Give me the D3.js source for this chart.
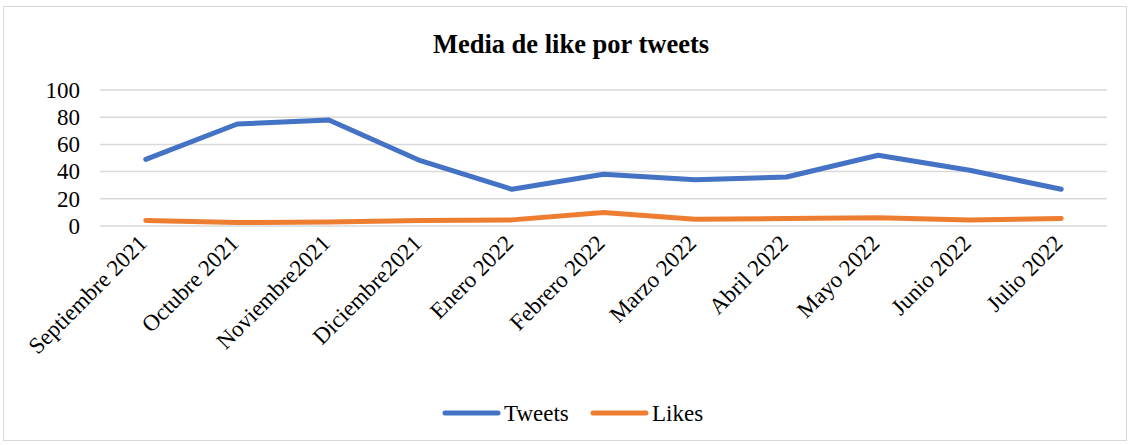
<!DOCTYPE html>
<html><head><meta charset="utf-8">
<script src="https://cdn.jsdelivr.net/npm/d3@7/dist/d3.min.js"></script>
<style>
html,body{margin:0;padding:0;background:#fff;}
svg{display:block;font-family:"Liberation Serif","Times New Roman",serif;}
</style></head>
<body>
<script>
const categories = ["Septiembre 2021","Octubre 2021","Noviembre2021","Diciembre2021","Enero 2022","Febrero 2022","Marzo 2022","Abril 2022","Mayo 2022","Junio 2022","Julio 2022"];
const tweets = [49,75,78,48,27,38,34,36,52,41,27];
const likes = [4,2.5,3,4,4.5,10,5,5.5,6,4.5,5.5];
const yTicks = [0,20,40,60,80,100];
const seriesNames = ["Tweets","Likes"];
const colors = ["#4472C4","#ED7D31"];

const W = 1131, H = 445;
const svg = d3.select("body").append("svg").attr("width", W).attr("height", H);

svg.append("rect").attr("x",3.5).attr("y",6.5).attr("width",1123).attr("height",434)
  .attr("fill","#fff").attr("stroke","#d9d9d9").attr("stroke-width",1);

svg.append("text").attr("x",571).attr("y",53).attr("text-anchor","middle")
  .attr("font-size",26.5).attr("font-weight","bold").attr("fill","#000")
  .text("Media de like por tweets");

const x = d3.scaleBand().domain(categories).range([100,1107]);
const y = d3.scaleLinear().domain([0,100]).range([226,90]);

const grid = svg.append("g");
grid.selectAll("line").data(yTicks).join("line")
  .attr("x1",100).attr("x2",1107)
  .attr("y1",d=>y(d)).attr("y2",d=>y(d))
  .attr("stroke","#d9d9d9").attr("stroke-width",1.5);

const yAxis = svg.append("g").attr("transform","translate(100,0)")
  .call(d3.axisLeft(y).tickValues(yTicks).tickSize(0).tickPadding(20));
yAxis.select(".domain").remove();
yAxis.selectAll("text").attr("font-size",23).attr("font-family","Liberation Serif").attr("fill","#000");

const xAxis = svg.append("g").attr("transform","translate(0,226)")
  .call(d3.axisBottom(x).tickSize(0));
xAxis.select(".domain").remove();
xAxis.selectAll("text")
  .attr("font-size",23).attr("font-family","Liberation Serif").attr("fill","#000")
  .attr("text-anchor","end")
  .attr("transform","translate(-3,13) rotate(-45)")
  .attr("x",0).attr("y",0).attr("dy","0.35em");

const line = d3.line().x((d,i)=>x(categories[i])+x.bandwidth()/2).y(d=>y(d));
[tweets,likes].forEach((s,k)=>{
  svg.append("path").datum(s).attr("d",line)
    .attr("fill","none").attr("stroke",colors[k]).attr("stroke-width",5)
    .attr("stroke-linejoin","round").attr("stroke-linecap","round");
});

const legendX = [445,593];
seriesNames.forEach((n,k)=>{
  const g = svg.append("g").attr("transform",`translate(${legendX[k]},413)`);
  g.append("line").attr("x1",0).attr("x2",53).attr("y1",0).attr("y2",0)
    .attr("stroke",colors[k]).attr("stroke-width",5).attr("stroke-linecap","round");
  g.append("text").attr("x",59).attr("y",0).attr("dy","0.33em")
    .attr("font-size",23).attr("fill","#000").text(n);
});
</script>
</body></html>
